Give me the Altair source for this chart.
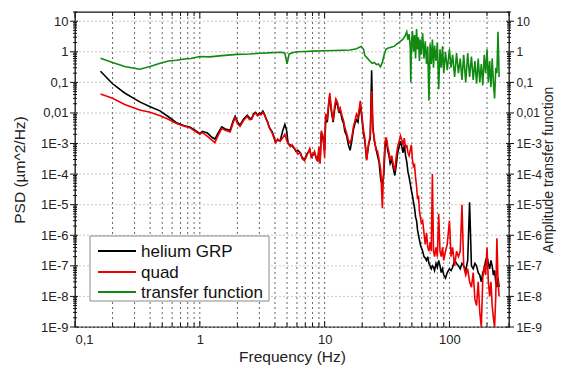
import altair as alt
import pandas as pd

# ---------------- data ----------------
freq_psd = [
    0.16, 0.2, 0.25, 0.33, 0.4, 0.48, 0.56, 0.65, 0.75, 0.83,
    0.92, 1.0, 1.05, 1.15, 1.25, 1.32, 1.4, 1.5, 1.6, 1.75,
    1.85, 1.92, 2.0, 2.1, 2.25, 2.4, 2.5, 2.6, 2.7, 2.8,
    2.9, 3.0, 3.1, 3.2, 3.3, 3.4, 3.5, 3.6, 3.8, 3.9,
    4.05, 4.2, 4.4, 4.6, 4.8, 4.95, 5.1, 5.3, 5.5, 5.7,
    5.9, 6.1, 6.4, 6.6, 6.9, 7.2, 7.6, 7.8, 8.0, 8.3,
    8.6, 8.8, 9.0, 9.2, 9.4, 9.7, 10.0, 10.2, 10.5, 10.8,
    11.0, 11.3, 11.7, 12.0, 12.3, 12.7, 13.0, 13.3, 13.8, 14.2,
    14.5, 15.0, 15.5, 16.0, 16.5, 17.0, 17.5, 18.0, 18.5, 19.0,
    19.3, 19.8, 20.5, 21.0, 21.7, 22.5, 23.2, 23.8, 24.3, 25.0,
    25.8, 26.5, 27.3, 28.2, 29.0, 29.8, 30.5, 31.2, 32.0, 32.8,
    33.5, 34.5, 35.5, 36.5, 37.5, 38.5, 39.5, 40.5, 41.5, 42.5,
    43.5, 44.5, 45.5, 46.5, 47.5, 48.5, 49.5, 50.5, 51.5, 52.5,
    53.5, 54.5, 55.5, 56.5, 57.5, 58.5, 59.5, 61, 62.5, 64,
    65.5, 67, 68.5, 70, 71.5, 73, 74.5, 76, 78, 80,
    82, 84, 86, 88, 90, 93, 96, 100, 103, 106,
    110, 114, 118, 122, 126, 130, 135, 140, 145, 150,
    155, 160, 165, 170, 175, 180, 185, 190, 195, 200,
    205, 210, 215, 220, 225, 230, 235, 240, 245, 250,
]

helium = [
    0.23, 0.09, 0.045, 0.023, 0.016, 0.0117, 0.0075, 0.0048, 0.0038, 0.0035,
    0.0027, 0.0021, 0.0025, 0.0022, 0.0016, 0.0014, 0.0022, 0.0035, 0.003, 0.0027,
    0.0055, 0.0078, 0.0052, 0.004, 0.0065, 0.0085, 0.0068, 0.0065, 0.0095, 0.0105,
    0.0085, 0.0098, 0.0095, 0.0115, 0.009, 0.0065, 0.005, 0.0034, 0.0024, 0.0018,
    0.0011, 0.0013, 0.0012, 0.0025, 0.0042, 0.0028, 0.001, 0.0009, 0.0008, 0.0007,
    0.00055, 0.0006, 0.00048, 0.00035, 0.0003, 0.00045, 0.00062, 0.0004, 0.0004, 0.0005,
    0.00033, 0.00026, 0.0006, 0.00025, 0.0022, 0.0015, 0.0006, 0.007, 0.005, 0.02,
    0.035, 0.012, 0.005, 0.012, 0.022, 0.018, 0.01, 0.013, 0.006, 0.0045,
    0.0025, 0.0018, 0.0009, 0.0006, 0.0012, 0.0028, 0.0045, 0.006, 0.005, 0.012,
    0.02, 0.008, 0.002, 0.0012, 0.0003, 0.0009, 0.0015, 0.25, 0.004, 0.0012,
    0.0007, 0.0004, 0.00025, 6e-5, 5e-5, 1e-4, 8e-4, 1.3e-3, 6e-4, 4e-4,
    2.2e-4, 3e-4, 1.5e-4, 9e-5, 2e-4, 5e-4, 8e-4, 1.2e-3, 8e-4, 5e-4,
    9e-4, 4e-4, 2.5e-4, 1.2e-4, 8e-5, 5e-5, 3e-5, 2e-5, 1.2e-5, 8e-6,
    4e-6, 3e-6, 1.5e-6, 1e-6, 7e-7, 5e-7, 4e-7, 3e-7, 2e-7, 1.8e-7,
    1.5e-7, 2e-7, 1.2e-7, 1e-7, 8e-8, 1e-7, 9e-8, 7e-8, 1.2e-7, 9e-8,
    1.5e-7, 1e-7, 6e-8, 8e-8, 5e-8, 4e-8, 6e-8, 8e-8, 7e-8, 9e-8,
    1.5e-7, 1.2e-7, 1e-7, 8e-8, 1.2e-7, 1e-7, 7e-8, 1.5e-7, 1.2e-5, 1e-7,
    8e-8, 1.2e-7, 1e-7, 6e-8, 5e-8, 3e-8, 6e-8, 8e-8, 1.5e-7, 2e-7,
    1.2e-7, 8e-8, 1.5e-7, 1e-7, 5e-8, 7e-8, 3e-8, 2e-8, 4e-8, 2e-8,
]

quad = [
    0.042, 0.03, 0.019, 0.0125, 0.0105, 0.0081, 0.0062, 0.0045, 0.0037, 0.0033,
    0.0025, 0.002, 0.0023, 0.0017, 0.0013, 0.00107, 0.0018, 0.0031, 0.0027, 0.0024,
    0.0048, 0.007, 0.0045, 0.0036, 0.0058, 0.0078, 0.006, 0.0062, 0.0088, 0.0098,
    0.008, 0.009, 0.0088, 0.0105, 0.0085, 0.0062, 0.0048, 0.0033, 0.0022, 0.0016,
    0.00105, 0.0014, 0.0012, 0.0015, 0.002, 0.0013, 0.001, 0.0008, 0.0009, 0.00073,
    0.0006, 0.00045, 0.0005, 0.00032, 0.00027, 0.0004, 0.00068, 0.00035, 0.0004, 0.00055,
    0.0003, 0.00028, 0.0008, 0.00022, 0.0026, 0.0018, 0.00035, 0.0094, 0.006, 0.025,
    0.045, 0.015, 0.0056, 0.016, 0.029, 0.022, 0.012, 0.0146, 0.008, 0.0055,
    0.0034, 0.0022, 0.0013, 0.001, 0.0016, 0.0035, 0.0056, 0.009, 0.007, 0.015,
    0.025, 0.01, 0.0026, 0.0015, 0.00028, 0.001, 0.0018, 0.052, 0.003, 0.0015,
    0.0006, 0.00058, 0.0003, 1.3e-4, 7.6e-6, 2e-4, 1.2e-3, 1.6e-3, 8e-4, 5e-4,
    2.8e-4, 4e-4, 2e-4, 1.3e-4, 4e-4, 8e-4, 1.2e-3, 1.8e-3, 1.3e-3, 9e-4,
    1.5e-3, 7e-4, 9e-4, 5e-4, 4e-4, 6e-4, 9e-4, 3e-4, 1.8e-4, 2e-4,
    8e-5, 4e-5, 1.5e-5, 2e-5, 6e-6, 4e-6, 2.5e-6, 3e-6, 1.2e-6, 5e-7,
    1.2e-6, 4e-7, 3e-7, 6e-7, 3e-7, 1e-4, 3e-7, 2e-7, 4e-7, 2e-7,
    5e-6, 3e-7, 2e-7, 4e-7, 1.5e-7, 3e-7, 5e-7, 3e-6, 2e-7, 4e-7,
    1e-7, 3e-7, 2e-7, 3e-7, 1e-5, 1e-7, 5e-8, 8e-8, 3e-8, 2e-8,
    6e-8, 8e-9, 5e-9, 3e-8, 3e-9, 1e-9, 4e-8, 1e-7, 5e-8, 4e-7,
    3e-8, 1e-8, 3e-8, 5e-9, 2e-9, 1e-9, 1e-8, 8e-7, 3e-8, 1e-8,
]

freq_tf = [
    0.16, 0.2, 0.25, 0.33, 0.4, 0.48, 0.56, 0.65, 0.75, 0.85,
    1.0, 1.2, 1.5, 2.0, 2.5, 3.0, 3.5, 4.0, 4.5, 4.8,
    5.0, 5.2, 5.6, 6.0, 7.0, 8.0, 10, 12, 14, 16,
    18, 19.6, 20.5, 21, 22, 23, 24, 25, 26, 27,
    28, 29, 30, 31, 32, 34, 36, 38, 40, 42,
    44, 45.5, 46.5, 47.5, 48.5, 49, 49.7, 50.5, 51.5, 52.5,
    53.5, 54.5, 55.5, 56.5, 57.5, 58.5, 59.5, 61, 62.5, 64,
    65.5, 67, 68.5, 70, 71.5, 73, 74.5, 76, 78, 80,
    82, 84, 86, 88, 90, 93, 96, 100, 103, 106,
    110, 114, 118, 122, 126, 130, 135, 140, 145, 150,
    155, 160, 165, 170, 175, 180, 185, 190, 195, 200,
    205, 210, 215, 220, 225, 230, 235, 240, 245, 250,
]

transfer = [
    0.62, 0.45, 0.33, 0.27, 0.33, 0.42, 0.5, 0.53, 0.58, 0.6,
    0.7, 0.68, 0.75, 0.82, 0.85, 0.9, 0.92, 0.95, 0.97, 0.9,
    0.4, 0.85, 0.95, 1.0, 1.02, 1.05, 1.08, 1.1, 1.12, 1.15,
    1.25, 1.5, 1.2, 0.75, 0.62, 0.5, 0.42, 0.45, 0.38, 0.4,
    0.32, 0.45, 0.8, 1.2, 1.3, 1.4, 1.5, 1.8, 2.1, 2.5,
    3.2, 4.5, 2.5, 3.8, 1.5, 0.1, 2.0, 4.8, 1.0, 3.5,
    0.6, 5.5, 1.2, 3.0, 0.5, 2.5, 0.8, 4.0, 0.6, 2.2,
    0.4, 1.5, 0.025, 1.8, 0.4, 2.5, 0.3, 1.6, 0.5, 2.0,
    0.06, 1.2, 0.3, 1.5, 0.2, 1.0, 0.25, 1.2, 0.3, 0.8,
    0.15, 0.9, 0.2, 0.6, 0.12, 0.8, 0.1, 0.9, 0.15, 0.7,
    0.12, 0.5, 0.09, 0.6, 0.1, 0.4, 0.08, 0.8, 0.2, 1.2,
    0.1, 0.5, 0.07, 0.6, 0.1, 0.03, 0.3, 0.2, 4.5, 0.15,
]

series_names = ["helium GRP", "quad", "transfer function"]
series_colors = ["#000000", "#ee0000", "#108a10"]

x_major = [0.1, 1, 10, 100]
x_minor = [m * d for d in [0.1, 1, 10, 100] for m in range(2, 10) if m * d <= 300]
x_grid = [v for v in x_minor] + [1, 10, 100]
y_major = [1e-9, 1e-8, 1e-7, 1e-6, 1e-5, 1e-4, 1e-3, 0.01, 0.1, 1, 10]
y_minor = [m * d for d in y_major for m in range(2, 10) if m * d <= 20]

FONT = "Liberation Sans"

xscale = alt.Scale(type="log", domain=[0.1, 300], nice=False)
yscale = alt.Scale(type="log", domain=[1e-9, 20], nice=False)

y_label_expr = (
    "round(log(datum.value)/LN10) == 1 ? '10' : "
    "round(log(datum.value)/LN10) == 0 ? '1' : "
    "round(log(datum.value)/LN10) == -1 ? '0,1' : "
    "round(log(datum.value)/LN10) == -2 ? '0,01' : "
    "'1E' + round(log(datum.value)/LN10)"
)
x_label_expr = "datum.value < 0.5 ? '0,1' : format(datum.value, 'd')"

xaxis = alt.Axis(values=x_major, labelExpr=x_label_expr, ticks=False, grid=False,
                 domain=False, title="Frequency (Hz)", labelFontSize=13,
                 labelPadding=6, titleFontSize=15.5, titleFontWeight="normal",
                 titlePadding=3, labelColor="#222", titleColor="#222", labelFont=FONT,
                 titleFont=FONT)
yaxis = alt.Axis(values=y_major, labelExpr=y_label_expr, ticks=False, grid=False,
                 domain=False, title="PSD (µm^2/Hz)", labelFontSize=13,
                 labelPadding=7, titleFontSize=15.5, titleFontWeight="normal",
                 titlePadding=13, labelColor="#222", titleColor="#222", labelFont=FONT,
                 titleFont=FONT)
yaxis_r = alt.Axis(values=y_major, labelExpr=y_label_expr, ticks=False, grid=False,
                   domain=False, title="Amplitude transfer function", orient="right",
                   labelFontSize=12, labelPadding=7, titleFontSize=14,
                   titleFontWeight="normal", titlePadding=0, titleAngle=270,
                   titleBaseline="top",
                   labelColor="#222", titleColor="#222", labelFont=FONT, titleFont=FONT)


def X(field):
    return alt.X(field, type="quantitative", scale=xscale, axis=xaxis)


def Y(field):
    return alt.Y(field, type="quantitative", scale=yscale, axis=yaxis)


color = alt.Color("s:N", scale=alt.Scale(domain=series_names, range=series_colors),
                  legend=None)

df_h = pd.DataFrame({"f": freq_psd, "v": helium, "s": "helium GRP"})
df_q = pd.DataFrame({"f": freq_psd, "v": quad, "s": "quad"})
df_t = pd.DataFrame({"f": freq_tf, "v": transfer, "s": "transfer function"})

df_xmaj = pd.DataFrame({"f": x_major})
df_xmin = pd.DataFrame({"f": x_minor})
df_xgrid = pd.DataFrame({"f": x_grid})
df_ymaj = pd.DataFrame({"v": y_major})
df_ymin = pd.DataFrame({"v": y_minor})

hgrid = alt.Chart(df_ymaj).mark_rule(color="#c8c8c8", strokeDash=[2, 2], strokeWidth=1).encode(y=Y("v"))
vgrid = alt.Chart(df_xgrid).mark_rule(color="#666", strokeDash=[2, 3], strokeWidth=1).encode(x=X("f"))

lines = [
    alt.Chart(d).mark_line(strokeWidth=1.6, clip=True).encode(x=X("f"), y=Y("v"), color=color)
    for d in (df_h, df_q, df_t)
]

tick_color = "#111"
ticks = [
    # left
    alt.Chart(df_ymaj).mark_rule(color=tick_color).encode(y=Y("v"), x=alt.value(-5), x2=alt.value(3)),
    alt.Chart(df_ymin).mark_rule(color=tick_color).encode(y=Y("v"), x=alt.value(-2), x2=alt.value(2)),
    # top
    alt.Chart(df_xmaj).mark_rule(color=tick_color).encode(x=X("f"), y=alt.value(0), y2=alt.value(6)),
    alt.Chart(df_xmin).mark_rule(color=tick_color).encode(x=X("f"), y=alt.value(0), y2=alt.value(4)),
    # right (uses fitted width)
    alt.Chart(df_ymaj).mark_rule(color=tick_color).encode(
        y=Y("v"), x=alt.value({"expr": "width - 3"}), x2=alt.value({"expr": "width + 5"})),
    alt.Chart(df_ymin).mark_rule(color=tick_color).encode(
        y=Y("v"), x=alt.value({"expr": "width - 2"}), x2=alt.value({"expr": "width + 2"})),
    # bottom (uses fitted height)
    alt.Chart(df_xmaj).mark_rule(color=tick_color).encode(
        x=X("f"), y=alt.value({"expr": "height"}), y2=alt.value({"expr": "height - 6"})),
    alt.Chart(df_xmin).mark_rule(color=tick_color).encode(
        x=X("f"), y=alt.value({"expr": "height"}), y2=alt.value({"expr": "height - 4"})),
]

# ---- manual legend box (layout only) ----
LX0, LX1, LY0, LY1 = 15, 194, 224, 289
row_y = [239, 260, 280]
one = pd.DataFrame({"a": [0]})
legend_layers = [
    alt.Chart(one).mark_rect(fill="white", stroke="#8a8a8a", strokeWidth=1).encode(
        x=alt.value(LX0), x2=alt.value(LX1), y=alt.value(LY0), y2=alt.value(LY1))
]
for name, col, ry in zip(series_names, series_colors, row_y):
    legend_layers.append(
        alt.Chart(one).mark_rule(color=col, strokeWidth=2).encode(
            x=alt.value(23), x2=alt.value(61), y=alt.value(ry)))
    legend_layers.append(
        alt.Chart(one).mark_text(align="left", baseline="middle", fontSize=17,
                                 font=FONT, color="#111").encode(
            x=alt.value(66), y=alt.value(ry + 1), text=alt.value(name)))

left = alt.layer(hgrid, vgrid, *lines, *ticks, *legend_layers)

right = alt.Chart(df_ymaj).mark_point(opacity=0).encode(
    y=alt.Y("v", type="quantitative", scale=yscale, axis=yaxis_r)
)

chart = (
    alt.layer(left, right)
    .resolve_scale(y="independent")
    .properties(width=548, height=357,
                autosize=alt.AutoSizeParams(type="fit", contains="padding"),
                padding={"left": 4, "top": 3, "right": 0, "bottom": 0})
    .configure(font=FONT)
    .configure_view(stroke="#111", strokeWidth=1.3)
)

chart.save("out.html", embed_options={"renderer": "svg", "actions": False})
